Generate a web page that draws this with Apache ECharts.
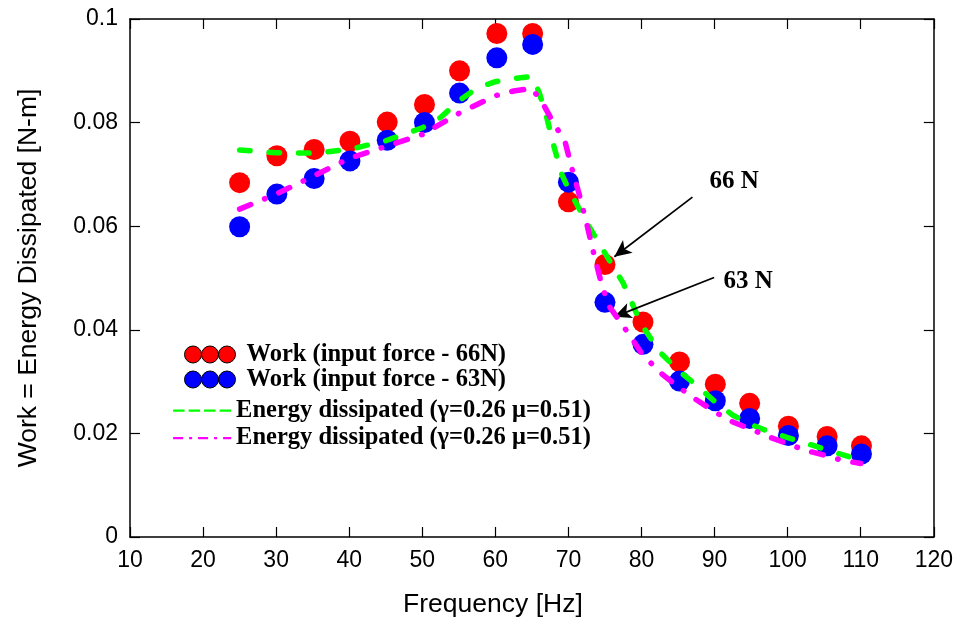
<!doctype html>
<html>
    <head>
        <meta charset="utf-8">
        <title>Work vs Frequency</title>
        <style>
            html, body { margin: 0; padding: 0; background: #fff; }
            #main { width: 956px; height: 625px; }
        </style>
    </head>
    <body>
        <div id="main"></div>
        <script src="https://cdn.jsdelivr.net/npm/echarts@6/dist/echarts.min.js"></script>
        <script>
            // measured points
            var freq = [25.0, 30.1, 35.2, 40.1, 45.2, 50.3, 55.1, 60.2, 65.1, 70.0, 75.0, 80.2, 85.2, 90.1, 94.8, 100.1, 105.4, 110.1];
            var work66 = [0.0684, 0.0736, 0.0748, 0.0764, 0.0801, 0.0835, 0.0900, 0.0972, 0.0972, 0.0647, 0.0526, 0.0415, 0.0338, 0.0295, 0.0258, 0.0214, 0.0194, 0.0176];
            var work63 = [0.0599, 0.0662, 0.0692, 0.0726, 0.0766, 0.0800, 0.0857, 0.0925, 0.0951, 0.0685, 0.0453, 0.0372, 0.0301, 0.0263, 0.0229, 0.0196, 0.0176, 0.0160];

            // model curves
            var modelFreqA = [25, 30, 35, 40, 45, 50, 52.5, 55, 57.5, 60, 62.5, 65, 66, 67, 68, 69, 70, 72.5, 75, 77.5, 80, 82.5, 85, 87.5, 90, 92.5, 95, 97.5, 100, 105, 110];
            var energyA = [0.0747, 0.0742, 0.0741, 0.0748, 0.0765, 0.0790, 0.0810, 0.0842, 0.0867, 0.0879, 0.0885, 0.0889, 0.0858, 0.0812, 0.0755, 0.0703, 0.0672, 0.0607, 0.0548, 0.0490, 0.0410, 0.0357, 0.0322, 0.0293, 0.0262, 0.0235, 0.0217, 0.0203, 0.0192, 0.0170, 0.0148];
            var modelFreqB = [25, 30, 35, 40, 45, 50, 55, 60, 62.5, 65, 66.5, 68, 69.5, 70.5, 71.5, 72.5, 73.5, 74.5, 75.5, 77, 78.5, 80, 82.5, 85, 87.5, 90, 92.5, 95, 97.5, 100, 102.5, 105, 107.5, 110];
            var energyB = [0.0633, 0.0662, 0.0696, 0.0731, 0.0754, 0.0777, 0.0818, 0.0852, 0.0861, 0.0866, 0.0837, 0.0798, 0.0765, 0.0710, 0.0660, 0.0605, 0.0545, 0.0490, 0.0447, 0.0417, 0.0387, 0.0355, 0.0318, 0.0290, 0.0265, 0.0242, 0.0222, 0.0208, 0.0193, 0.0180, 0.0167, 0.0158, 0.0148, 0.0142];

            var seriesNames = ['Work (input force - 66N)', 'Work (input force - 63N)', 'Energy dissipated (γ=0.26 μ=0.51)', 'Energy dissipated (γ=0.26 μ=0.51)'];

            // annotation arrows: [label, tail x, tail y, tip x, tip y, label x, label y]
            var notes = [
                ['66 N', 86.97, 0.0656, 76.28, 0.0541, 92.67, 0.0686],
                ['63 N', 89.94, 0.0501, 76.28, 0.0425, 94.59, 0.0494]
            ];

            function pairs(xs, ys) {
                return xs.map(function (x, i) { return [x, ys[i]]; });
            }

            var sans = 'Liberation Sans';
            var serif = 'Liberation Serif';
            var threeDots = 'path://M0 8.5A8.5 8.5 0 1 0 17 8.5A8.5 8.5 0 1 0 0 8.5ZM17 8.5A8.5 8.5 0 1 0 34 8.5A8.5 8.5 0 1 0 17 8.5ZM34 8.5A8.5 8.5 0 1 0 51 8.5A8.5 8.5 0 1 0 34 8.5Z';
            var noDot = { color: 'transparent', borderWidth: 0, opacity: 0 };

            var myChart = echarts.init(document.getElementById('main'));

            var axisCommon = {
                axisLine: { show: true, onZero: false, lineStyle: { color: '#000', width: 1.5 } },
                axisTick: { show: true, inside: true, length: 10, lineStyle: { color: '#000', width: 1.2 } },
                splitLine: { show: false }
            };

            var option = {
                animation: false,
                backgroundColor: '#fff',
                grid: { left: 130, right: 21, top: 19, bottom: 88 },
                xAxis: [
                    Object.assign({
                        type: 'value', min: 10, max: 120, interval: 10,
                        name: 'Frequency [Hz]', nameLocation: 'middle', nameGap: 54,
                        nameTextStyle: { fontFamily: sans, fontSize: 26.5, color: '#000', padding: [0, 78, 0, 0] },
                        axisLabel: { margin: 12, fontFamily: sans, fontSize: 23, color: '#000' }
                    }, axisCommon),
                    Object.assign({
                        type: 'value', min: 10, max: 120, interval: 10, position: 'top',
                        axisLabel: { show: false }
                    }, axisCommon)
                ],
                yAxis: [
                    Object.assign({
                        type: 'value', min: 0, max: 0.1, interval: 0.02,
                        name: 'Work = Energy Dissipated [N-m]', nameLocation: 'middle', nameGap: 88,
                        nameTextStyle: { fontFamily: sans, fontSize: 26.5, color: '#000' },
                        axisLabel: { margin: 12, fontFamily: sans, fontSize: 23, color: '#000' }
                    }, axisCommon),
                    Object.assign({
                        type: 'value', min: 0, max: 0.1, interval: 0.02, position: 'right',
                        axisLabel: { show: false }
                    }, axisCommon)
                ],
                legend: [
                    {
                        orient: 'vertical', left: 184, top: 342, padding: 0, itemGap: 0,
                        itemWidth: 51, itemHeight: 17, icon: threeDots,
                        itemStyle: { borderColor: '#000', borderWidth: 1 },
                        data: ['w66', 'w63'],
                        formatter: function (n) { return n === 'w66' ? seriesNames[0] : seriesNames[1]; },
                        textStyle: { fontFamily: serif, fontWeight: 'bold', fontSize: 24.5, color: '#000', lineHeight: 24.6, padding: [0, 0, 0, 6] }
                    },
                    {
                        orient: 'vertical', left: 172, top: 397, padding: 0, itemGap: 0,
                        itemWidth: 58, itemHeight: 14,
                        data: [
                            { name: 'eA', itemStyle: noDot, lineStyle: { width: 2.2, type: [11.5, 4], cap: 'butt' } },
                            { name: 'eB', itemStyle: noDot, lineStyle: { width: 2.2, type: [10, 6, 3, 6], cap: 'butt' } }
                        ],
                        formatter: function (n) { return n === 'eA' ? seriesNames[2] : seriesNames[3]; },
                        textStyle: { fontFamily: serif, fontWeight: 'bold', fontSize: 24.5, color: '#000', lineHeight: 27.4 }
                    }
                ],
                series: [
                    {
                        name: 'w66', type: 'scatter', symbolSize: 21,
                        itemStyle: { color: '#ff0000', opacity: 1 },
                        data: pairs(freq, work66),
                        z: 2,
                        markLine: {
                            silent: true, animation: false,
                            symbol: ['none', 'arrow'], symbolSize: [12, 17],
                            lineStyle: { color: '#000', width: 1.7, type: 'solid' },
                            label: { show: false },
                            data: notes.map(function (n) {
                                return [{ coord: [n[1], n[2]] }, { coord: [n[3], n[4]] }];
                            })
                        },
                        markPoint: {
                            silent: true, symbolSize: 0,
                            label: { show: true, formatter: '{b}', fontFamily: serif, fontWeight: 'bold', fontSize: 25, color: '#000' },
                            data: notes.map(function (n) {
                                return { name: n[0], coord: [n[5], n[6]] };
                            })
                        }
                    },
                    {
                        name: 'w63', type: 'scatter', symbolSize: 21,
                        itemStyle: { color: '#0000ff', opacity: 1 },
                        data: pairs(freq, work63),
                        z: 3
                    },
                    {
                        name: 'eA', type: 'line', showSymbol: false, symbol: 'none',
                        lineStyle: { color: '#00ff00', width: 5.5, type: [10.5, 19], cap: 'round' },
                        itemStyle: { color: '#00ff00' },
                        data: pairs(modelFreqA, energyA),
                        z: 4
                    },
                    {
                        name: 'eB', type: 'line', showSymbol: false, symbol: 'none',
                        lineStyle: { color: '#ff00ff', width: 5.5, type: [12, 15, 0.5, 15], cap: 'round' },
                        itemStyle: { color: '#ff00ff' },
                        data: pairs(modelFreqB, energyB),
                        z: 5
                    }
                ]
            };

            myChart.setOption(option);
        </script>
    </body>
</html>
